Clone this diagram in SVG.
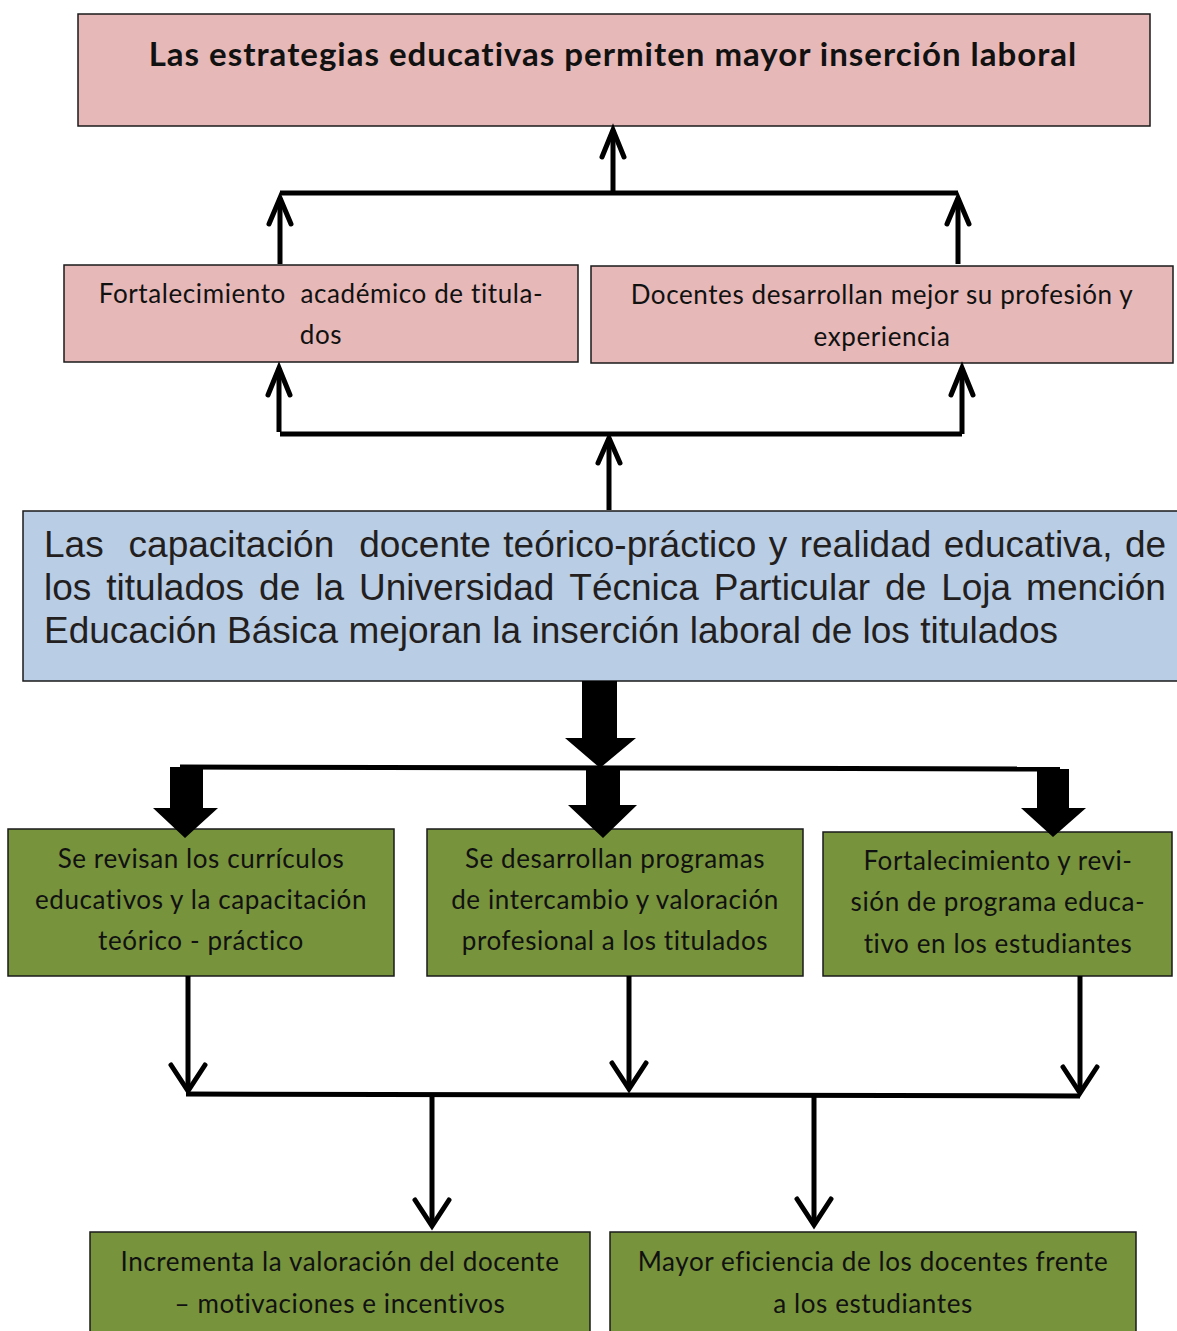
<svg xmlns="http://www.w3.org/2000/svg" width="1177" height="1331" viewBox="0 0 1177 1331">
<style>
.box{stroke:#1a1a1a;stroke-width:1.5}
.pink{fill:#e6b8b7}
.blue{fill:#b9cde5}
.green{fill:#77933c}
.t{font-family:Lato,"Open Sans",sans-serif;font-size:26px;letter-spacing:0.6px;fill:#111;text-anchor:middle}
.title{font-family:Lato,"Open Sans",sans-serif;font-size:33px;letter-spacing:1px;font-weight:bold;fill:#111;text-anchor:middle}
.big{font-family:"Liberation Sans",Arial,sans-serif;font-size:37px;fill:#231f20}
.ln{stroke:#000;stroke-width:5;fill:none}
.hd{stroke:#000;stroke-width:5;fill:none;stroke-linecap:round;stroke-linejoin:miter}
.fat{fill:#000}
</style>
<rect width="1177" height="1331" fill="#fff"/>
<g id="n-top">
<rect class="box pink" x="78" y="14" width="1072" height="112"/>
<text class="title" x="613" y="66">Las estrategias educativas permiten mayor inserción laboral</text>
</g>
<g id="n-fort">
<rect class="box pink" x="64" y="265" width="514" height="97"/>
<text class="t" x="321" y="303" xml:space="preserve">Fortalecimiento  académico de titula-</text>
<text class="t" x="321" y="344">dos</text>
</g>
<g id="n-doc">
<rect class="box pink" x="591" y="266" width="582" height="97"/>
<text class="t" x="882" y="304">Docentes desarrollan mejor su profesión y</text>
<text class="t" x="882" y="346">experiencia</text>
</g>
<g id="n-main">
<rect class="box blue" x="23" y="511" width="1160" height="170" stroke-width="2"/>
<text class="big" y="557"><tspan x="44">Las</tspan><tspan x="128.6">capacitación</tspan><tspan x="359.2">docente</tspan><tspan x="503.3">teórico-práctico</tspan><tspan x="768.7">y</tspan><tspan x="799.7">realidad</tspan><tspan x="943.8">educativa,</tspan><tspan x="1124.9">de</tspan></text>
<text class="big" y="600"><tspan x="44">los</tspan><tspan x="106.3">titulados</tspan><tspan x="259.1">de</tspan><tspan x="315.2">la</tspan><tspan x="359">Universidad</tspan><tspan x="569.3">Técnica</tspan><tspan x="713.8">Particular</tspan><tspan x="885.1">de</tspan><tspan x="941.2">Loja</tspan><tspan x="1026.1">mención</tspan></text>
<text class="big" x="44" y="643">Educación Básica mejoran la inserción laboral de los titulados</text>
</g>
<g id="n-g1">
<rect class="box green" x="8" y="829" width="386" height="147"/>
<text class="t" x="201" y="868">Se revisan los currículos</text>
<text class="t" x="201" y="909">educativos y la capacitación</text>
<text class="t" x="201" y="950">teórico - práctico</text>
</g>
<g id="n-g2">
<rect class="box green" x="427" y="829" width="376" height="147"/>
<text class="t" x="615" y="868">Se desarrollan programas</text>
<text class="t" x="615" y="909">de intercambio y valoración</text>
<text class="t" x="615" y="950">profesional a los titulados</text>
</g>
<g id="n-g3">
<rect class="box green" x="823" y="832" width="349" height="144"/>
<text class="t" x="998" y="870">Fortalecimiento y revi-</text>
<text class="t" x="998" y="911">sión de programa educa-</text>
<text class="t" x="998" y="953">tivo en los estudiantes</text>
</g>
<g id="n-b1">
<rect class="box green" x="90" y="1232" width="500" height="110"/>
<text class="t" x="340" y="1271">Incrementa la valoración del docente</text>
<text class="t" x="340" y="1313">– motivaciones e incentivos</text>
</g>
<g id="n-b2">
<rect class="box green" x="610" y="1232" width="526" height="110"/>
<text class="t" x="873" y="1271">Mayor eficiencia de los docentes frente</text>
<text class="t" x="873" y="1313">a los estudiantes</text>
</g>
<g id="connectors">
<path class="ln" d="M613 193V130"/>
<path class="hd" d="M602 157L613 130L624 157"/>
<path class="ln" d="M280 193H958"/>
<path class="ln" d="M280 264V198"/>
<path class="hd" d="M269 224L280 198L291 224"/>
<path class="ln" d="M958 264V198"/>
<path class="hd" d="M947 224L958 198L969 224"/>
<path class="ln" d="M280 434H962"/>
<path class="ln" d="M279 432V368"/>
<path class="hd" d="M268 395L279 368L290 395"/>
<path class="ln" d="M962 434V368"/>
<path class="hd" d="M951 395L962 368L973 395"/>
<path class="ln" d="M609 510V438"/>
<path class="hd" d="M598 463L609 438L620 463"/>
<path class="fat" d="M582 681H617V738H636L600 768L565 738H582Z"/>
<path class="ln" d="M180 767L1060 769"/>
<path class="fat" d="M170 767H203V808H218L185 838L153 808H170Z"/>
<path class="fat" d="M586 768H620V805H637L603 838L568 805H586Z"/>
<path class="fat" d="M1037 769H1069V808H1086L1053 837L1021 808H1037Z"/>
<path class="ln" d="M188 976V1091"/>
<path class="hd" d="M171 1065L188 1091L205 1065"/>
<path class="ln" d="M629 976V1089"/>
<path class="hd" d="M612 1063L629 1089L646 1063"/>
<path class="ln" d="M1080 976V1093"/>
<path class="hd" d="M1063 1067L1080 1093L1097 1067"/>
<path class="ln" d="M186 1094L1080 1096"/>
<path class="ln" d="M432 1094V1226"/>
<path class="hd" d="M415 1200L432 1226L449 1200"/>
<path class="ln" d="M814 1096V1225"/>
<path class="hd" d="M797 1199L814 1225L831 1199"/>
</g>
</svg>
